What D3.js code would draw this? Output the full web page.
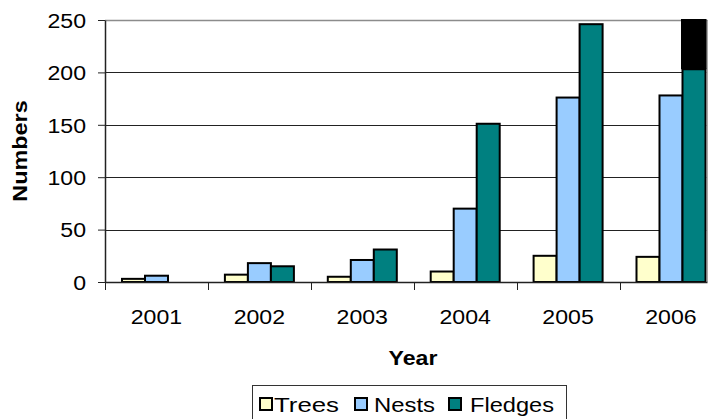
<!DOCTYPE html>
<html>
<head>
<meta charset="utf-8">
<script src="https://cdn.jsdelivr.net/npm/d3@7"></script>
<style>
  html, body { margin: 0; padding: 0; background: #fff; }
  svg { display: block; }
  text { font-family: "Liberation Sans", Arial, sans-serif; fill: #000; }
</style>
</head>
<body>
<svg id="chart" width="713" height="419"></svg>
<script>
// ---- data ----
const years = ["2001", "2002", "2003", "2004", "2005", "2006"];
const trees = [3, 7, 5, 10, 25, 24];
const nests = [6, 18, 21, 70, 176, 178];
const fledges = [0, 15, 31, 151, 246, 203];
const fledgesOverflow = [0, 0, 0, 0, 0, 60]; // black segment above the 2006 bar (clipped at 250)
const seriesNames = ["Trees", "Nests", "Fledges"];
const seriesColors = ["#FFFFCC", "#99CCFF", "#008080"];
const yTicks = [0, 50, 100, 150, 200, 250];

// ---- layout ----
const svg = d3.select("#chart");
const pLeft = 105, pTop = 20, pBottom = 282, plotRight = 706.5;
const bandW = 102.9;

const x = d3.scaleBand().domain(years).range([pLeft, pLeft + bandW * years.length]).paddingInner(0).paddingOuter(0);
const xs = d3.scaleBand().domain(seriesNames).range([17, 86]).padding(0);
const y = d3.scaleLinear().domain([0, 250]).range([pBottom, pTop]);

const font = 21;
const sx = 1.1;

// clip
svg.append("defs").append("clipPath").attr("id", "plotclip")
  .append("rect").attr("x", pLeft).attr("y", pTop - 1).attr("width", plotRight - pLeft).attr("height", pBottom - pTop + 2);

// gridlines
svg.append("g").selectAll("line").data(yTicks.filter(d => d > 0 && d < 250)).join("line")
  .attr("x1", pLeft).attr("x2", plotRight)
  .attr("y1", d => Math.round(y(d)) + 0.5).attr("y2", d => Math.round(y(d)) + 0.5)
  .attr("stroke", "#222").attr("stroke-width", 1);

// top & right plot border
svg.append("line").attr("x1", pLeft).attr("x2", plotRight + 1).attr("y1", pTop + 0.5).attr("y2", pTop + 0.5)
  .attr("stroke", "#8c8c8c").attr("stroke-width", 1.5);
svg.append("line").attr("x1", plotRight + 0.5).attr("x2", plotRight + 0.5).attr("y1", pTop).attr("y2", pBottom)
  .attr("stroke", "#8c8c8c").attr("stroke-width", 1.5);

// bars
const seriesData = [trees, nests, fledges];
const barsG = svg.append("g").attr("clip-path", "url(#plotclip)");
seriesData.forEach((vals, si) => {
  barsG.append("g").selectAll("rect").data(years.map((yr, i) => ({ yr, v: vals[i] })).filter(d => d.v > 0)).join("rect")
    .attr("x", d => x(d.yr) + xs(seriesNames[si]))
    .attr("width", xs.bandwidth())
    .attr("y", d => y(d.v))
    .attr("height", d => y(0) - y(d.v))
    .attr("fill", seriesColors[si])
    .attr("stroke", "#000").attr("stroke-width", 2);
});
// overflow segment
barsG.append("g").selectAll("rect")
  .data(years.map((yr, i) => ({ yr, base: fledges[i], v: fledgesOverflow[i] })).filter(d => d.v > 0)).join("rect")
  .attr("x", d => x(d.yr) + xs("Fledges") - 1.5)
  .attr("width", xs.bandwidth() + 3)
  .attr("y", d => y(d.base + d.v))
  .attr("height", d => y(d.base) - y(d.base + d.v))
  .attr("fill", "#000");

// y axis
const yAxis = svg.append("g").attr("transform", `translate(${pLeft},0)`)
  .call(d3.axisLeft(y).tickValues(yTicks).tickSize(7).tickSizeOuter(0));
yAxis.select(".domain").attr("stroke", "#222").attr("stroke-width", 1.5);
yAxis.selectAll(".tick line").attr("stroke", "#222");
yAxis.selectAll(".tick text")
  .attr("x", -19 / sx).attr("dy", "0.35em")
  .attr("transform", `scale(${sx},1)`)
  .style("font-size", font + "px").style("font-family", "'Liberation Sans', Arial, sans-serif").attr("fill", "#000");

// x axis
const xAxis = svg.append("g").attr("transform", `translate(0,${pBottom})`)
  .call(d3.axisBottom(x).tickSize(0).tickPadding(27).tickSizeOuter(0));
xAxis.select(".domain").attr("d", `M${pLeft},0.5H${plotRight + 1}`).attr("stroke", "#222").attr("stroke-width", 1.5);
xAxis.selectAll(".tick text")
  .attr("transform", `scale(${sx},1)`)
  .style("font-size", font + "px").style("font-family", "'Liberation Sans', Arial, sans-serif").attr("fill", "#000");
xAxis.append("g").selectAll("line").data(years).join("line")
  .attr("x1", d => Math.round(x(d)) + 0.5).attr("x2", d => Math.round(x(d)) + 0.5)
  .attr("y1", 0).attr("y2", 8).attr("stroke", "#222").attr("stroke-width", 1);

// axis titles
svg.append("g").attr("transform", `translate(413,365) scale(${sx},1)`)
  .append("text").attr("text-anchor", "middle").style("font-size", font + "px").style("font-weight", "bold").text("Year");
svg.append("g").attr("transform", `translate(27,151) rotate(-90) scale(1.115,1)`)
  .append("text").attr("text-anchor", "middle").style("font-size", font + "px").style("font-weight", "bold").text("Numbers");

// legend
const legendSwatchX = [260, 355, 449];
const legendTextX = [274, 374, 470];
const legendTextW = [65, 61, 84];
const legend = svg.append("g");
legend.append("rect").attr("x", 252.5).attr("y", 385.5).attr("width", 314).attr("height", 60)
  .attr("fill", "#fff").attr("stroke", "#333").attr("stroke-width", 1);
const li = legend.selectAll("g.item").data(seriesNames).join("g").attr("class", "item");
li.append("rect").attr("x", (d, i) => legendSwatchX[i]).attr("y", 398).attr("width", 12).attr("height", 12)
  .attr("fill", (d, i) => seriesColors[i]).attr("stroke", "#000").attr("stroke-width", 2);
li.append("text").attr("x", (d, i) => legendTextX[i]).attr("y", 412)
  .attr("textLength", (d, i) => legendTextW[i]).attr("lengthAdjust", "spacingAndGlyphs")
  .style("font-size", font + "px").text(d => d);
</script>
</body>
</html>
